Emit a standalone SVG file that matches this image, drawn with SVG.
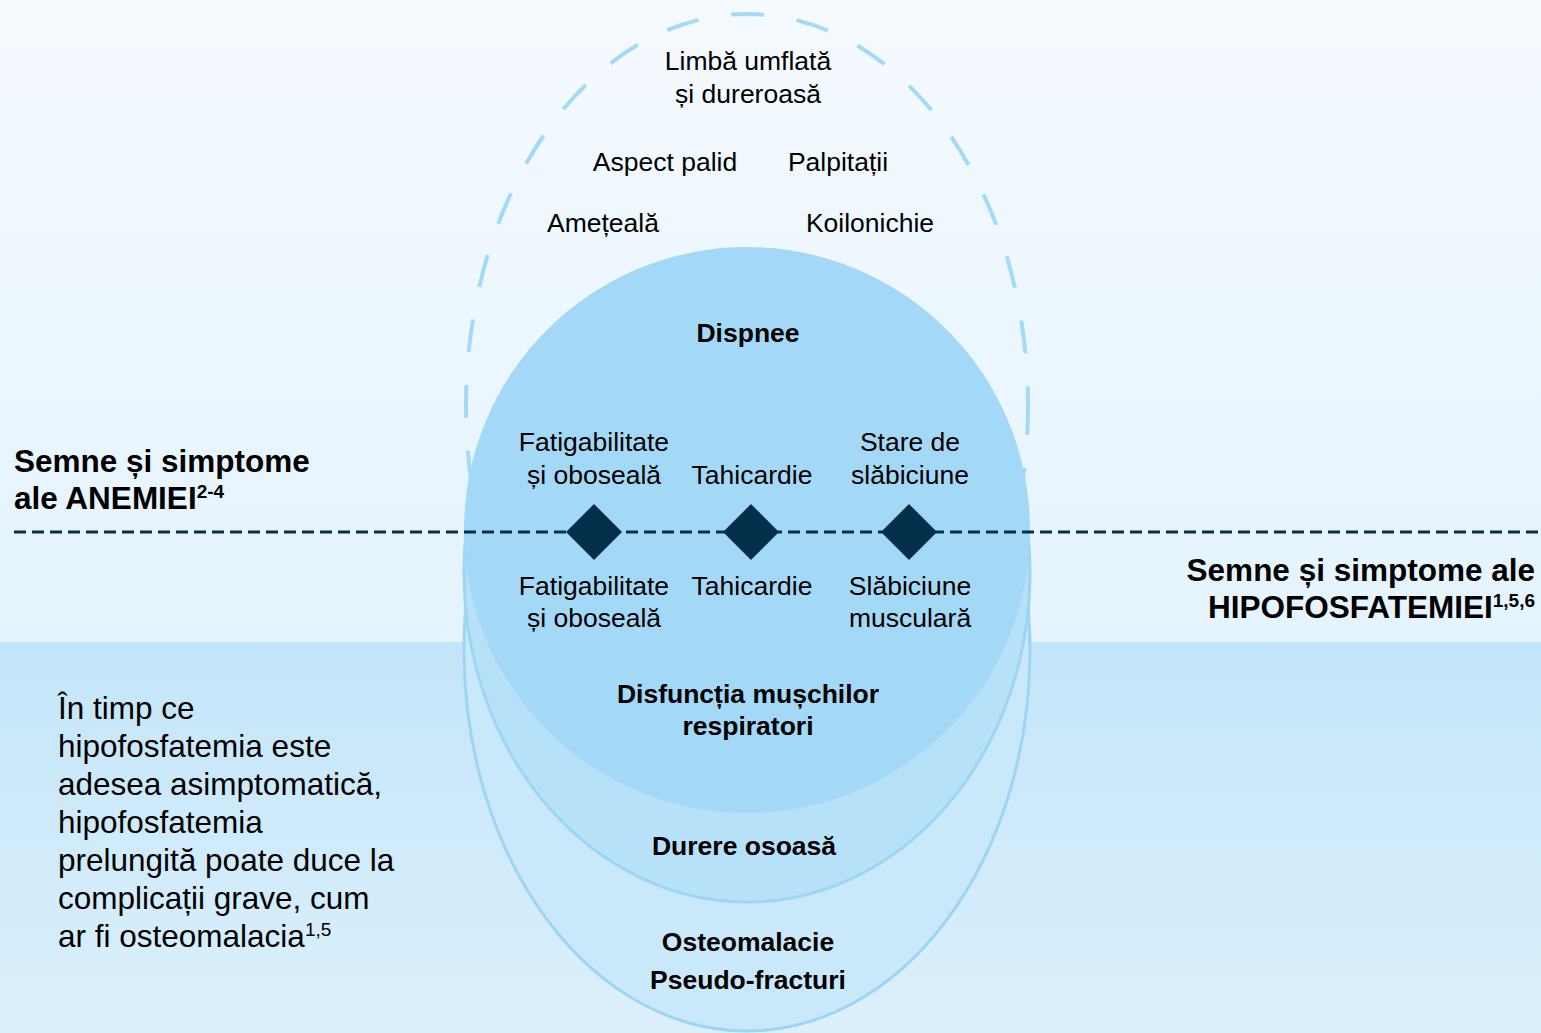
<svg xmlns="http://www.w3.org/2000/svg" width="1541" height="1033" viewBox="0 0 1541 1033">
  <defs>
    <linearGradient id="bgTop" x1="0" y1="0" x2="0" y2="1">
      <stop offset="0" stop-color="#f5faff"/>
      <stop offset="1" stop-color="#e4f3fd"/>
    </linearGradient>
    <linearGradient id="bgBottom" x1="0" y1="0" x2="0" y2="1">
      <stop offset="0" stop-color="#c3e5f9"/>
      <stop offset="1" stop-color="#dcf0fc"/>
    </linearGradient>
    <clipPath id="lowerHalf">
      <rect x="0" y="530" width="1541" height="503"/>
    </clipPath>
    <style>
      .t { font-family: "Liberation Sans", Arial, sans-serif; font-size: 26.5px; fill: #000; text-anchor: middle; }
      .b { font-weight: bold; }
      .title { font-family: "Liberation Sans", Arial, sans-serif; font-size: 31.5px; font-weight: bold; fill: #000; }
      .para { font-family: "Liberation Sans", Arial, sans-serif; font-size: 31.5px; fill: #000; }
      .sup { font-size: 19px; }
      .ring { stroke: #9dd6f5; stroke-width: 3; }
      .diamond { fill: #032f4a; }
    </style>
  </defs>

  <!-- background -->
  <rect x="0" y="0" width="1541" height="642" fill="url(#bgTop)"/>
  <rect x="0" y="642" width="1541" height="391" fill="url(#bgBottom)"/>

  <!-- anemia dashed outline -->
  <g id="anemia-outline">
    <ellipse cx="747" cy="406" rx="281" ry="392" fill="none" stroke="#a3daf7" stroke-width="4" stroke-dasharray="33 33" stroke-dashoffset="4"/>
  </g>

  <!-- outer: osteomalacia -->
  <g id="node-osteomalacie">
    <ellipse class="ring" cx="747" cy="650" rx="283" ry="381" fill="#c9e9fa" clip-path="url(#lowerHalf)"/>
    <text class="t b" x="748" y="951">Osteomalacie</text>
    <text class="t b" x="748" y="989">Pseudo-fracturi</text>
  </g>

  <!-- middle: bone pain -->
  <g id="node-durere">
    <ellipse class="ring" cx="747" cy="572" rx="283" ry="330" fill="#b6e1f8" clip-path="url(#lowerHalf)"/>
    <text class="t b" x="744" y="855">Durere osoasă</text>
  </g>

  <!-- inner circle -->
  <g id="node-core">
    <circle cx="747" cy="530" r="283" fill="#a3d9f6"/>
  </g>

  <!-- anemia outer symptoms -->
  <g id="node-limba">
    <text class="t" x="748" y="70">Limbă umflată</text>
    <text class="t" x="748" y="103">și dureroasă</text>
  </g>
  <g id="node-aspect"><text class="t" x="665" y="171">Aspect palid</text></g>
  <g id="node-palpitatii"><text class="t" x="838" y="171">Palpitații</text></g>
  <g id="node-ameteala"><text class="t" x="603" y="232">Amețeală</text></g>
  <g id="node-koilonichie"><text class="t" x="870" y="232">Koilonichie</text></g>

  <!-- shared symptoms -->
  <g id="node-dispnee"><text class="t b" x="748" y="342">Dispnee</text></g>
  <g id="node-fatig-anemie">
    <text class="t" x="594" y="451">Fatigabilitate</text>
    <text class="t" x="594" y="484">și oboseală</text>
  </g>
  <g id="node-tahi-anemie"><text class="t" x="752" y="484">Tahicardie</text></g>
  <g id="node-stare">
    <text class="t" x="910" y="451">Stare de</text>
    <text class="t" x="910" y="484">slăbiciune</text>
  </g>
  <g id="node-fatig-hipo">
    <text class="t" x="594" y="595">Fatigabilitate</text>
    <text class="t" x="594" y="627">și oboseală</text>
  </g>
  <g id="node-tahi-hipo"><text class="t" x="752" y="595">Tahicardie</text></g>
  <g id="node-slabiciune">
    <text class="t" x="910" y="595">Slăbiciune</text>
    <text class="t" x="910" y="627">musculară</text>
  </g>
  <g id="node-disfunctia">
    <text class="t b" x="748" y="703">Disfuncția mușchilor</text>
    <text class="t b" x="748" y="735">respiratori</text>
  </g>

  <!-- divider line and diamonds -->
  <g id="connectors">
    <line x1="14" y1="532" x2="1541" y2="532" stroke="#0a2f48" stroke-width="3" stroke-dasharray="12 6"/>
    <polygon class="diamond" points="594,504 622,532 594,560 566,532"/>
    <polygon class="diamond" points="751,504 779,532 751,560 723,532"/>
    <polygon class="diamond" points="909,504 937,532 909,560 881,532"/>
  </g>

  <!-- titles -->
  <g id="title-anemie">
    <text class="title" x="14" y="472">Semne și simptome</text>
    <text class="title" x="14" y="509">ale ANEMIEI<tspan class="sup" dy="-11">2-4</tspan></text>
  </g>
  <g id="title-hipo">
    <text class="title" x="1535" y="581" text-anchor="end">Semne și simptome ale</text>
    <text class="title" x="1535" y="618" text-anchor="end">HIPOFOSFATEMIEI<tspan class="sup" dy="-11">1,5,6</tspan></text>
  </g>

  <!-- note -->
  <g id="note">
    <text class="para" x="58" y="719">În timp ce</text>
    <text class="para" x="58" y="757">hipofosfatemia este</text>
    <text class="para" x="58" y="795">adesea asimptomatică,</text>
    <text class="para" x="58" y="833">hipofosfatemia</text>
    <text class="para" x="58" y="871">prelungită poate duce la</text>
    <text class="para" x="58" y="909">complicații grave, cum</text>
    <text class="para" x="58" y="947">ar fi osteomalacia<tspan class="sup" dy="-11">1,5</tspan></text>
  </g>
</svg>
